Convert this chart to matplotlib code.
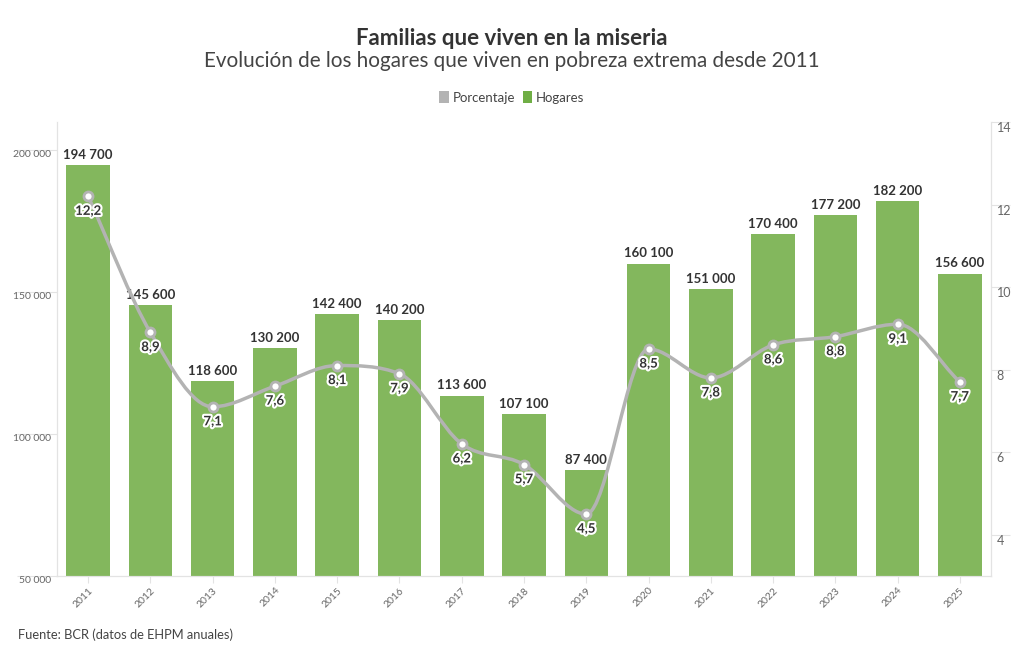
import numpy as np
import matplotlib
matplotlib.use('Agg')
import matplotlib.pyplot as plt
import matplotlib.patheffects as pe
from matplotlib.path import Path
from matplotlib.patches import PathPatch, Patch

plt.rcParams['font.family'] = ['Lato', 'DejaVu Sans']

# data
years = ['2011', '2012', '2013', '2014', '2015', '2016', '2017', '2018',
         '2019', '2020', '2021', '2022', '2023', '2024', '2025']
hogares = [194700, 145600, 118600, 130200, 142400, 140200, 113600, 107100,
           87400, 160100, 151000, 170400, 177200, 182200, 156600]
porcentaje = [12.2, 8.9, 7.1, 7.6, 8.1, 7.9, 6.2, 5.7, 4.5, 8.5, 7.8, 8.6,
              8.8, 9.1, 7.7]
left_ticks = [50000, 100000, 150000, 200000]
right_ticks = [4, 6, 8, 10, 12, 14]

GREEN = '#83b75d'
GREEN_LEG = '#6fae45'
GREY = '#b3b3b3'
TXT = '#333333'
AX = '#e3e3e3'


def fmt_miles(v):
    return '{:,.0f}'.format(v).replace(',', ' ')


def fmt_pct(v):
    return '{:.1f}'.format(v).replace('.', ',')


fig = plt.figure(figsize=(10.24, 6.61), dpi=100)
ax = fig.add_axes([0.0557, 0.1286, 0.9121, 0.6868])
ax2 = ax.twinx()

x = np.arange(len(years))

# 1) bars
ax.bar(x, hogares, width=0.7, color=GREEN, zorder=2)
for xi, v in zip(x, hogares):
    ax.annotate(fmt_miles(v), (xi, v), xytext=(0, 3), textcoords='offset points',
                ha='center', va='bottom', fontsize=9.5, fontweight='bold',
                color=TXT)

ax.set_xlim(-0.5, len(years) - 0.5)
ax.set_ylim(50000, 210000)
ax.set_yticks(left_ticks)
ax.set_yticklabels([fmt_miles(t) for t in left_ticks])
ax.set_xticks(x)
ax.set_xticklabels(years, rotation=45, ha='right', va='top',
                   rotation_mode='anchor')
for lbl in ax.get_yticklabels():
    lbl.set_va('top')
ax.tick_params(axis='y', length=29, pad=-25, color=AX, labelsize=7.5,
               labelcolor='#666666', width=0.8)
ax.tick_params(axis='x', length=5, color=AX, labelsize=7.5,
               labelcolor='#666666', pad=2)

# 2) smooth percentage line (cubic Bezier through the points)
y = np.array(porcentaje)
n = len(y)
m = np.zeros(n)
for k in range(n):
    if k == 0:
        m[k] = y[1] - y[0]
    elif k == n - 1:
        m[k] = y[-1] - y[-2]
    elif (y[k] - y[k - 1]) * (y[k + 1] - y[k]) <= 0:
        m[k] = 0.0
    else:
        m[k] = (y[k + 1] - y[k - 1]) / 2.0
        lim = 3 * min(abs(y[k] - y[k - 1]), abs(y[k + 1] - y[k]))
        m[k] = np.sign(m[k]) * min(abs(m[k]), lim)
verts = [(x[0], y[0])]
codes = [Path.MOVETO]
for k in range(n - 1):
    verts += [(x[k] + 1 / 3, y[k] + m[k] / 3),
              (x[k + 1] - 1 / 3, y[k + 1] - m[k + 1] / 3),
              (x[k + 1], y[k + 1])]
    codes += [Path.CURVE4] * 3
ax2.add_patch(PathPatch(Path(verts, codes), fill=False, edgecolor=GREY,
                        lw=2.5, zorder=3, capstyle='round'))
ax2.plot(x, porcentaje, ls='none', marker='o', ms=6.5, mfc='white',
         mec=GREY, mew=2, zorder=4)
for xi, v in zip(x, porcentaje):
    ax2.annotate(fmt_pct(v), (xi, v), xytext=(0, -10.5), textcoords='offset points',
                 ha='center', va='center', fontsize=9.5, fontweight='bold',
                 color=TXT, zorder=5,
                 path_effects=[pe.withStroke(linewidth=3, foreground='white')])

ax2.set_ylim(3, 14)
ax2.set_yticks(right_ticks)
for lbl in ax2.get_yticklabels():
    lbl.set_va('top')
ax2.tick_params(axis='y', length=14, pad=-10, color=AX, labelsize=9,
                labelcolor='#666666', width=0.8)

for a in (ax, ax2):
    a.spines['top'].set_visible(False)
    for s in ('left', 'right', 'bottom'):
        a.spines[s].set_color(AX)
        a.spines[s].set_linewidth(0.8)

# 3) titles, legend, source
fig.text(0.5, 0.942, 'Familias que viven en la miseria', ha='center',
         va='center', fontsize=16, fontweight='bold', color=TXT)
fig.text(0.5, 0.908, 'Evolución de los hogares que viven en pobreza extrema desde 2011',
         ha='center', va='center', fontsize=14.9, color='#444444')
handles = [Patch(facecolor=GREY, edgecolor='none', label='Porcentaje'),
           Patch(facecolor=GREEN_LEG, edgecolor='none', label='Hogares')]
fig.legend(handles=handles, loc='center', bbox_to_anchor=(0.5, 0.853), ncol=2,
           frameon=False, fontsize=9.5, handlelength=0.7, handleheight=1.1,
           handletextpad=0.3, columnspacing=0.6, labelcolor='#444444')
fig.text(0.0176, 0.04, 'Fuente: BCR (datos de EHPM anuales)', ha='left',
         va='center', fontsize=9.3, color='#444444')

fig.savefig('out.png', dpi=100)
